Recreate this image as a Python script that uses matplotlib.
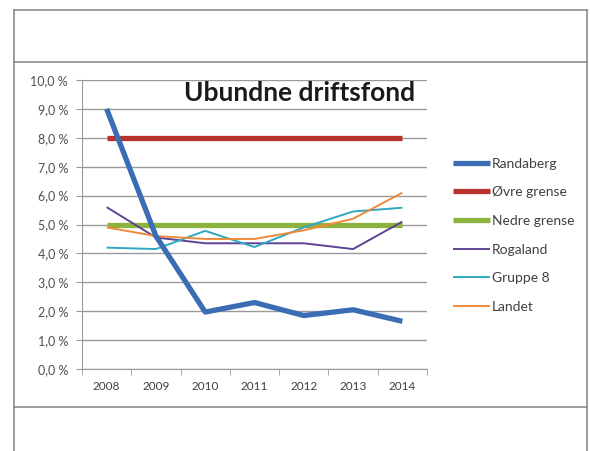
import matplotlib

matplotlib.use("Agg")
import matplotlib.pyplot as plt
from matplotlib.lines import Line2D
from matplotlib.ticker import FuncFormatter, FixedLocator
import numpy as np

plt.rcParams["font.family"] = ["Lato", "DejaVu Sans"]

years = ["2008", "2009", "2010", "2011", "2012", "2013", "2014"]
randaberg = [9.0, 4.6, 1.97, 2.3, 1.85, 2.05, 1.65]
ovre_grense = [8.0, 8.0, 8.0, 8.0, 8.0, 8.0, 8.0]
nedre_grense = [5.0, 5.0, 5.0, 5.0, 5.0, 5.0, 5.0]
rogaland = [5.6, 4.55, 4.35, 4.35, 4.35, 4.15, 5.1]
gruppe8 = [4.2, 4.15, 4.78, 4.22, 4.9, 5.45, 5.58]
landet = [4.9, 4.6, 4.5, 4.5, 4.8, 5.2, 6.1]

series = [
    ("Randaberg", randaberg, "#3A6DB3", 3.8, 6),
    ("Øvre grense", ovre_grense, "#B83330", 3.8, 3),
    ("Nedre grense", nedre_grense, "#8DB33F", 3.8, 3),
    ("Rogaland", rogaland, "#5E4393", 1.4, 4),
    ("Gruppe 8", gruppe8, "#31A7C4", 1.4, 4),
    ("Landet", landet, "#F08A3A", 1.4, 4),
]

fig = plt.figure(figsize=(5.9, 4.51), dpi=100)
W, H = 590, 451


def fx(px):
    return px / W


def fy(py):
    return 1 - py / H


# outer frame lines of the surrounding box
frame_color = "#8c8c8c"
for xs, ys in [
    ((14, 14), (10, 451)),
    ((587, 587), (10, 451)),
    ((14, 587), (10, 10)),
    ((14, 587), (62, 62)),
    ((14, 587), (407, 407)),
]:
    fig.add_artist(Line2D([fx(x) for x in xs], [fy(y) for y in ys],
                          color=frame_color, linewidth=1.2))

ax = fig.add_axes([fx(82), fy(369), fx(427) - fx(82), fy(80) - fy(369)])
x = np.arange(len(years))
for name, vals, color, lw, z in series:
    ax.plot(x, vals, color=color, linewidth=lw, label=name, zorder=z,
            solid_capstyle="butt")

ax.set_xlim(-0.5, len(years) - 0.5)
ax.set_ylim(0, 10)
ax.set_yticks(np.arange(0, 11, 1))
ax.yaxis.set_major_formatter(FuncFormatter(lambda v, _: f"{v:.1f} %".replace(".", ",")))
ax.set_xticks(x)
ax.set_xticklabels(years)
ax.xaxis.set_minor_locator(FixedLocator(np.arange(-0.5, len(years), 1)))
ax.tick_params(axis="x", which="major", length=0, pad=9, labelsize=8.5, colors="#404040")
ax.tick_params(axis="x", which="minor", length=4, color="#999999")
ax.tick_params(axis="y", length=4, color="#999999", labelsize=9, labelcolor="#505050", pad=6)
ax.grid(axis="y", color="#9a9a9a", linewidth=1)
ax.set_axisbelow(True)
for side in ["top", "right"]:
    ax.spines[side].set_visible(False)
for side in ["left", "bottom"]:
    ax.spines[side].set_color("#999999")

ax.text(0.632, 0.955, "Ubundne driftsfond", transform=ax.transAxes,
        ha="center", va="center", fontsize=19, fontweight="bold",
        color="#1a1a1a")

handles, labels = ax.get_legend_handles_labels()
fig.legend(handles, labels, loc="upper left", bbox_to_anchor=(fx(440), fy(145)),
           frameon=False, fontsize=10, handlelength=2.7, handletextpad=0.15,
           labelspacing=1.2, labelcolor="#404040")

fig.savefig("out.png", dpi=100)
